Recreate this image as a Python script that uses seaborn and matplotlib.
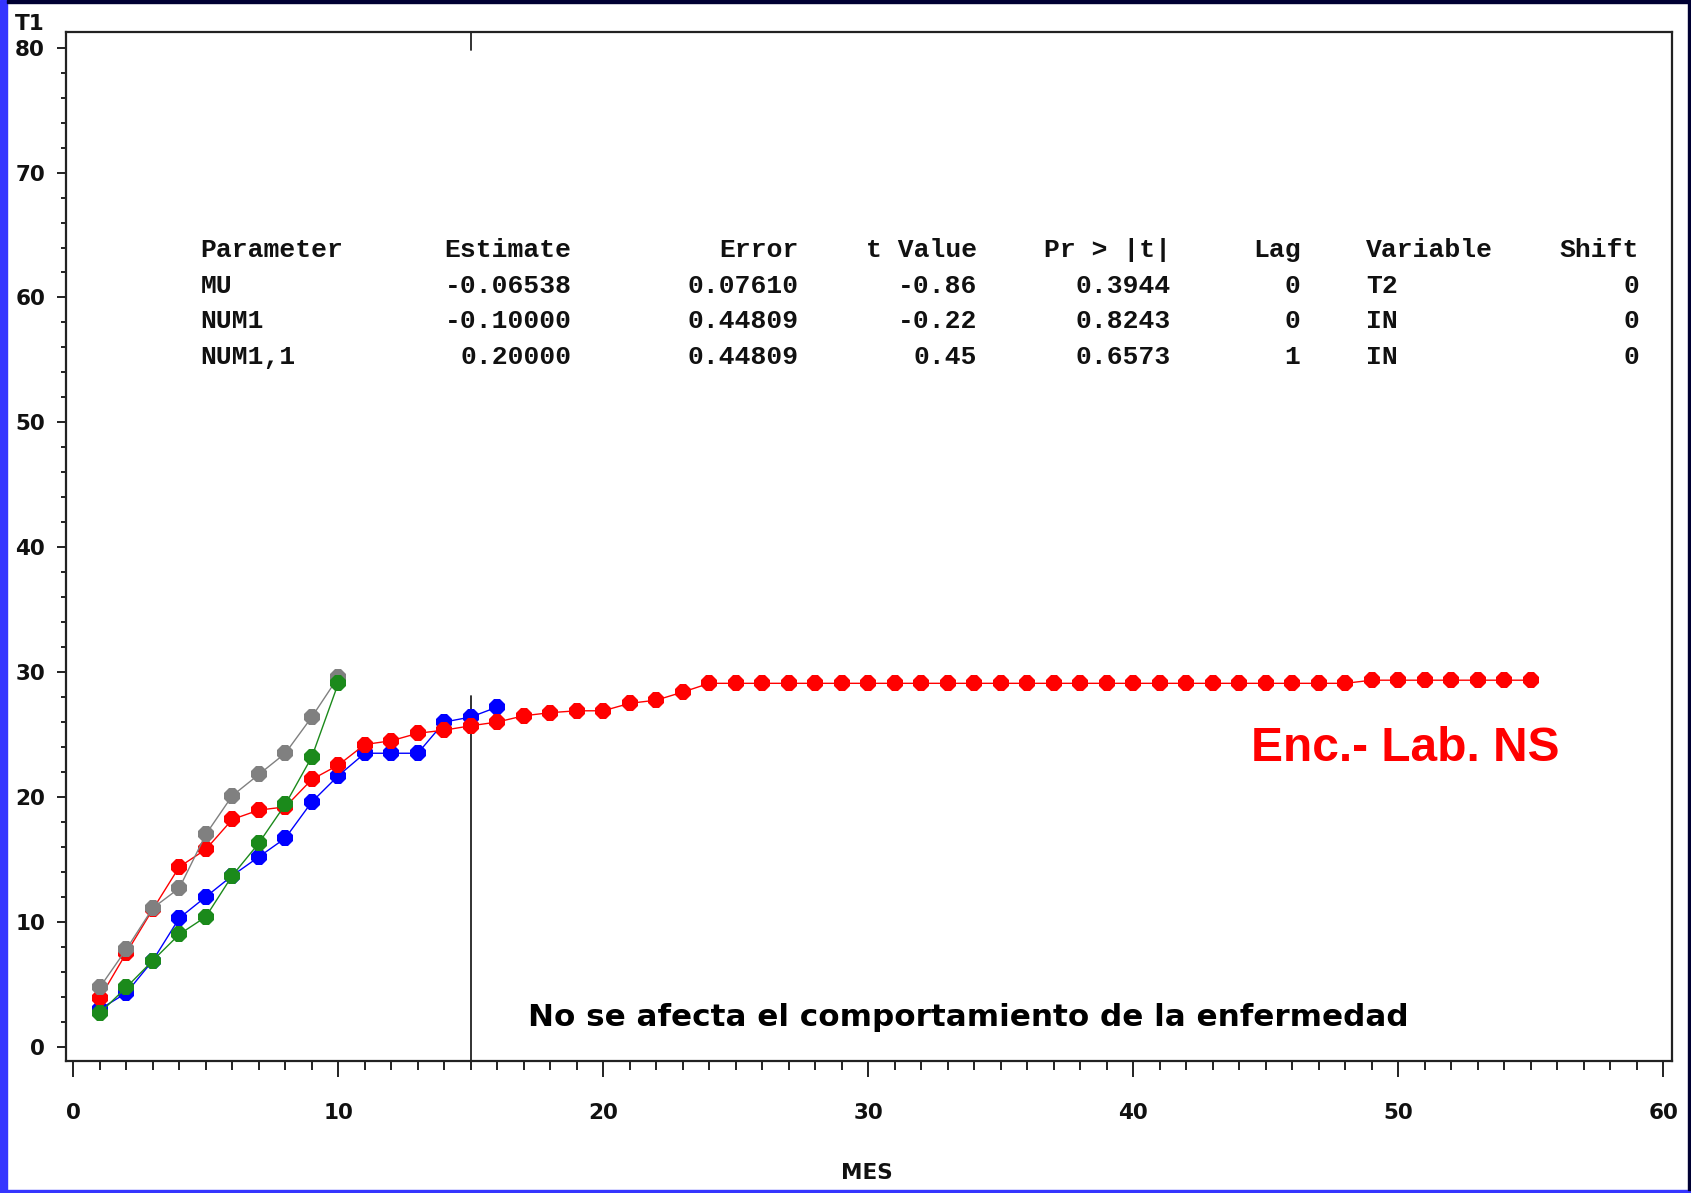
import matplotlib
matplotlib.use("Agg")
import matplotlib.pyplot as plt
import seaborn as sns
import numpy as np
import pandas as pd
from matplotlib.patches import Rectangle

# ---------------- data ----------------
mes_a = list(range(1, 11))
gray_vals = [4.75, 7.8, 11.1, 12.7, 17.0, 20.1, 21.8, 23.5, 26.4, 29.6]
green_vals = [2.7, 4.75, 6.9, 9.0, 10.4, 13.7, 16.3, 19.4, 23.2, 29.1]
mes_blue = list(range(1, 17))
blue_vals = [3.0, 4.3, 6.9, 10.3, 12.0, 13.7, 15.2, 16.7, 19.6, 21.7,
             23.5, 23.5, 23.5, 26.0, 26.4, 27.2]
mes_red = list(range(1, 56))
red_vals = ([3.9, 7.5, 11.0, 14.4, 15.8, 18.2, 18.95, 19.2, 21.4, 22.55,
             24.2, 24.5, 25.1, 25.35, 25.7, 26.0, 26.5, 26.75, 26.9, 26.9,
             27.5, 27.75, 28.4]
            + [29.1] * 25 + [29.35] * 7)

intervention_mes = 15
intervention_top = 28.1

x_ticks = [0, 10, 20, 30, 40, 50, 60]
y_ticks = [0, 10, 20, 30, 40, 50, 60, 70, 80]

table_header = ["Parameter", "Estimate", "Error", "t Value", "Pr > |t|", "Lag", "Variable", "Shift"]
table_rows = [
    ["MU", "-0.06538", "0.07610", "-0.86", "0.3944", "0", "T2", "0"],
    ["NUM1", "-0.10000", "0.44809", "-0.22", "0.8243", "0", "IN", "0"],
    ["NUM1,1", "0.20000", "0.44809", "0.45", "0.6573", "1", "IN", "0"],
]

# ---------------- figure ----------------
W, H = 1691, 1193
DPI = 100
sns.set_theme(style="white")
plt.rcParams['font.family'] = ['DejaVu Sans']
fig = plt.figure(figsize=(W / DPI, H / DPI), dpi=DPI)
fig.patch.set_facecolor("white")

def fx(px):
    return px / W

def fy(py):
    return 1 - py / H

ax_l, ax_r, ax_t, ax_b = 65.7, 1671.7, 31.7, 1061.0
ax = fig.add_axes([fx(ax_l), fy(ax_b), fx(ax_r - ax_l), (ax_b - ax_t) / H])
ax.set_facecolor("white")

series = [
    (mes_blue, blue_vals, "#0000ff"),
    (mes_red, red_vals, "#ff0000"),
    (mes_a, gray_vals, "#808080"),
    (mes_a, green_vals, "#1b8a1b"),
]
for xs, ys, col in series:
    df = pd.DataFrame({"MES": xs, "T1": ys})
    sns.lineplot(data=df, x="MES", y="T1", ax=ax, color=col, lw=1.0,
                 marker="8", markersize=12.5, markeredgewidth=0,
                 markerfacecolor=col, sort=False)

# x scale: x=0 at px 73.3, 26.5 px/unit; y: y=0 at 1046.7, 12.4875 px/unit
x0px, xs_px = 73.3, 26.5
y0px, ys_px = 1046.7, 12.4875
ax.set_xlim((ax_l - x0px) / xs_px, (ax_r - x0px) / xs_px)
ax.set_ylim(-(ax_b - y0px) / ys_px, (y0px - ax_t) / ys_px)

ymin = ax.get_ylim()[0]
ymax = ax.get_ylim()[1]
ax.plot([intervention_mes, intervention_mes], [ymin, intervention_top],
        color="#222222", lw=1.3, zorder=1)
ax.plot([intervention_mes, intervention_mes], [ymax, ymax - 1.5],
        color="#222222", lw=1.3, zorder=1)

for sp in ax.spines.values():
    sp.set_color("#222222")
    sp.set_linewidth(1.6)

ax.set_xticks(x_ticks)
ax.set_xticks(np.arange(0, 61, 1), minor=True)
ax.set_yticks(y_ticks)
ax.set_yticks(np.arange(0, 81, 2), minor=True)
ax.tick_params(axis="x", which="major", direction="out", length=11.5, width=1.4,
               color="#222222", pad=19, labelsize=15.5, bottom=True)
ax.tick_params(axis="x", which="minor", direction="out", length=6.5, width=1.4,
               color="#222222", bottom=True)
ax.tick_params(axis="y", which="major", direction="out", length=6.5, width=1.4,
               color="#222222", pad=8.4, labelsize=15.5, left=True)
ax.tick_params(axis="y", which="minor", direction="out", length=3.6, width=1.4,
               color="#222222", left=True)
for lab in ax.get_xticklabels() + ax.get_yticklabels():
    lab.set_fontweight("bold")
    lab.set_color("#111111")
ax.set_xlabel("")
ax.set_ylabel("")
ax.grid(False)

# axis titles
fig.text(fx(30), fy(24), "T1", ha="center", va="center", fontsize=15.5,
         fontweight="bold", color="#111111")
fig.text(fx(866.7), fy(1172.7), "MES", ha="center", va="center", fontsize=15.5,
         fontweight="bold", color="#111111")

# parameter table
col_x = [200.6, 571.6, 799.1, 977.0, 1171.2, 1300.5, 1366.4, 1639.2]
col_ha = ["left", "right", "right", "right", "right", "right", "left", "right"]
row_y = [250.2, 285.8, 321.4, 357.0]
mono = ["Liberation Mono", "DejaVu Sans Mono"]
for r, row in enumerate([table_header] + table_rows):
    for c, txt in enumerate(row):
        fig.text(fx(col_x[c]), fy(row_y[r]), txt, ha=col_ha[c], va="center",
                 fontsize=19, fontweight="bold", family=mono, color="#111111")

# annotations
fig.text(fx(528.4), fy(1017.5), "No se afecta el comportamiento de la enfermedad",
         ha="left", va="center", fontsize=22.3, fontweight="bold",
         family=["DejaVu Sans"], color="#000000")
fig.text(fx(1251), fy(748.4), "Enc.- Lab. NS", ha="left", va="center",
         fontsize=34.5, fontweight="bold", family=["Liberation Sans", "DejaVu Sans"],
         color="#ff0000")

# slide border
fig.patches.append(Rectangle((0, 0), fx(7), 1, transform=fig.transFigure,
                             color="#3535ff", zorder=10))
fig.patches.append(Rectangle((0, 0), 1, 3.5 / H, transform=fig.transFigure,
                             color="#3535ff", zorder=10))
fig.patches.append(Rectangle((fx(7), 1 - 2.5 / H), 1, 2.5 / H, transform=fig.transFigure,
                             color="#000033", zorder=10))
fig.patches.append(Rectangle((1 - 3 / W, 3.5 / H), 3 / W, 1, transform=fig.transFigure,
                             color="#000033", zorder=10))

fig.savefig("out.png", dpi=DPI)
